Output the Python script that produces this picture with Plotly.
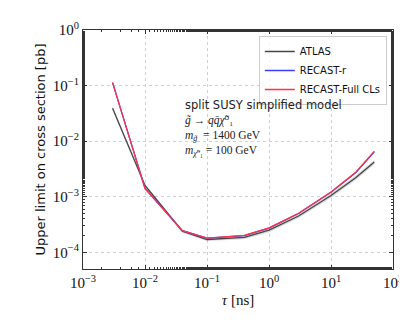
import plotly.graph_objects as go
import numpy as np

# データ（読み取り値）
tau = [0.003, 0.01, 0.04, 0.1, 0.4, 1.0, 3.0, 10.0, 25.0, 50.0]
atlas = [0.039, 1.6e-3, 2.4e-4, 1.7e-4, 1.85e-4, 2.5e-4, 4.5e-4, 1.05e-3, 2.2e-3, 4.2e-3]
atlas_lo = [0.036, 1.5e-3, 2.25e-4, 1.6e-4, 1.72e-4, 2.3e-4, 4.15e-4, 0.96e-3, 2.0e-3, 3.8e-3]
atlas_hi = [0.042, 1.7e-3, 2.55e-4, 1.8e-4, 1.98e-4, 2.7e-4, 4.85e-4, 1.14e-3, 2.4e-3, 4.6e-3]
recast_r = [0.112, 1.42e-3, 2.45e-4, 1.8e-4, 2.0e-4, 2.72e-4, 5.0e-4, 1.2e-3, 2.7e-3, 6.4e-3]
recast_full = [0.114, 1.4e-3, 2.45e-4, 1.8e-4, 2.02e-4, 2.75e-4, 5.05e-4, 1.22e-3, 2.75e-3, 6.6e-3]

x_ticks = [1e-3, 1e-2, 1e-1, 1, 10, 100]
x_labels = ["10<sup>−3</sup>", "10<sup>−2</sup>", "10<sup>−1</sup>", "10<sup>0</sup>", "10<sup>1</sup>", "10<sup>2</sup>"]
y_ticks = [1e-4, 1e-3, 1e-2, 1e-1, 1]
y_labels = ["10<sup>−4</sup>", "10<sup>−3</sup>", "10<sup>−2</sup>", "10<sup>−1</sup>", "10<sup>0</sup>"]

SERIF = "Liberation Serif, DejaVu Serif, serif"
SANS = "DejaVu Sans, sans-serif"

fig = go.Figure()

# ATLAS帯（灰色）
fig.add_trace(go.Scatter(
    x=tau + tau[::-1], y=atlas_hi + atlas_lo[::-1],
    fill="toself", fillcolor="rgba(150,150,150,0.35)",
    line=dict(color="rgba(0,0,0,0)"), showlegend=False, hoverinfo="skip",
))
fig.add_trace(go.Scatter(x=tau, y=atlas, mode="lines", name="ATLAS",
                         line=dict(color="rgb(70,70,70)", width=1.3)))
fig.add_trace(go.Scatter(x=tau, y=recast_r, mode="lines", name="RECAST-r",
                         line=dict(color="rgb(60,60,255)", width=1.3)))
fig.add_trace(go.Scatter(x=tau, y=recast_full, mode="lines", name="RECAST-Full CLs",
                         line=dict(color="rgb(255,50,70)", width=1.3)))

fig.add_annotation(
    xref="paper", yref="paper", x=0.322, y=0.725, xanchor="left", yanchor="top",
    align="left", showarrow=False,
    text=("<span style='font-family:DejaVu Sans'>split SUSY simplified model</span><br>"
          "<i>g̃</i> → <i>qq̄χ̃</i>⁰₁<br>"
          "<i>m</i><sub><i>g̃</i></sub>  = 1400 GeV<br>"
          "<i>m</i><sub><i>χ̃</i>⁰₁</sub> = 100 GeV"),
    font=dict(family=SERIF, size=11.5, color="#222"),
)

axis_common = dict(
    type="log", showline=True, linecolor="#333", linewidth=1, mirror="ticks",
    ticks="inside", ticklen=4, tickcolor="#333",
    showgrid=True, gridcolor="#d0d0d0", griddash="dot", gridwidth=1,
    zeroline=False,
    minor=dict(ticks="inside", ticklen=2, tickcolor="#333", showgrid=False),
    tickfont=dict(family=SERIF, size=15, color="#111"),
)

fig.update_layout(
    width=407, height=320,
    plot_bgcolor="white", paper_bgcolor="white",
    margin=dict(l=75, r=21, t=15, b=59),
    xaxis=dict(axis_common, range=[-3, 2], tickvals=x_ticks, ticktext=x_labels,
               title=dict(text="<i>τ</i> [ns]", font=dict(family=SERIF, size=15, color="#111"), standoff=4)),
    yaxis=dict(axis_common, range=[-4.3, 0], tickvals=y_ticks, ticktext=y_labels,
               title=dict(text="Upper limit on cross section [pb]", font=dict(family=SANS, size=13, color="#111"), standoff=4)),
    legend=dict(x=0.98, y=0.975, xanchor="right", yanchor="top",
                bgcolor="rgba(255,255,255,0.8)", bordercolor="#ccc", borderwidth=1,
                font=dict(family=SANS, size=10, color="#111"), tracegroupgap=0,
                itemwidth=30),
    showlegend=True,
)

fig.write_html("out.html")
